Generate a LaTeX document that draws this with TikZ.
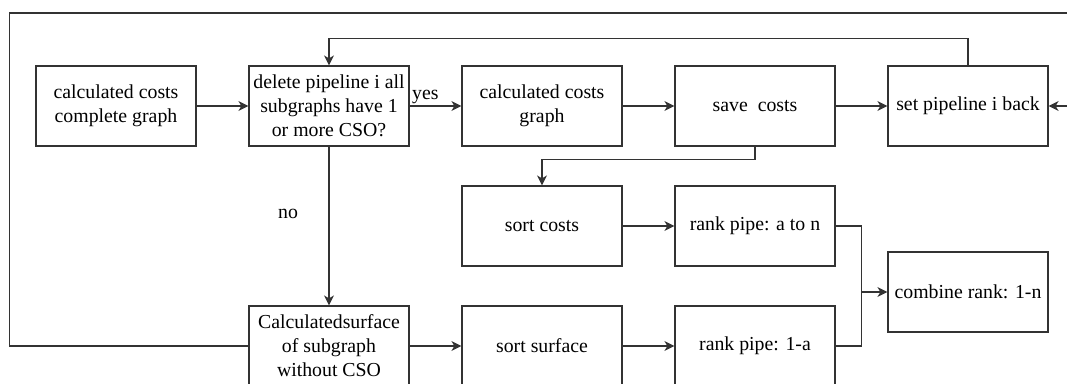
\documentclass[tikz,border=0pt]{standalone}
\usepackage{fontspec}
\setmainfont{Liberation Serif}
\usepackage{tikz}
\usetikzlibrary{arrows.meta}

\begin{document}
\begin{tikzpicture}[x=1pt, y=-1pt,
  box/.style={draw=black!80, line width=1.2pt, minimum width=160, minimum height=80, align=center, inner sep=1pt, font=\fontsize{19.8}{24}\selectfont},
  arr/.style={-{Stealth[length=10pt, width=10pt, inset=3pt]}, line width=1.2pt, draw=black!80},
  lbl/.style={inner sep=2pt, font=\fontsize{19.8}{24}\selectfont}]
\useasboundingbox (0,0) rectangle (1067,383);
% first row
\node[box] (costall) at (116,106) {calculated costs\\complete graph};
\node[box] (delpipe) at (329,106) {delete pipeline i all\\subgraphs have 1\\or more CSO?};
\node[box] (costgr) at (542,106) {calculated costs\\graph};
\node[box] (save) at (755,106) {save~~costs};
\node[box] (setback) at (968,106) {set pipeline i back};
% second row
\node[box] (sortc) at (542,226) {sort costs};
\node[box] (rankc) at (755,226) {rank pipe: a to n};
\node[box] (combine) at (968,292) {combine rank: 1-n};
% third row
\node[box] (surf) at (329,346) {Calculatedsurface\\of subgraph\\without CSO};
\node[box] (sorts) at (542,346) {sort surface};
\node[box] (ranks) at (755,346) {rank pipe: 1-a};
\node[lbl] (no) at (288,214) {no};
\coordinate (join) at (861.5,292);
\coordinate (tl) at (9.5,13);
\coordinate (tr) at (1067,13);
\coordinate (rin) at (1067,106);

\draw[arr] (costall) -- (delpipe);
\draw[arr] (delpipe) -- node[lbl, pos=0, anchor=south west] (yes) {yes} (costgr);
\draw[arr] (costgr) -- (save);
\draw[arr] (save) -- (setback);
\draw[arr] (rin) -- (setback);
\draw[arr] (setback.north) -- ++(0,-27) -| (delpipe.north);
\draw[arr] (save.south) -- ++(0,13) -| (sortc.north);
\draw[arr] (delpipe) -- (surf);
\draw[arr] (sortc) -- (rankc);
\draw[arr] (surf) -- (sorts);
\draw[arr] (sorts) -- (ranks);
\draw[line width=1.2pt, draw=black!80] (rankc.east) -| (join);
\draw[line width=1.2pt, draw=black!80] (ranks.east) -| (join);
\draw[arr] (join) -- (combine);
% outer loop
\draw[line width=1.2pt, draw=black!80] (surf.west) -| (tl) -- (tr);
\end{tikzpicture}
\end{document}
